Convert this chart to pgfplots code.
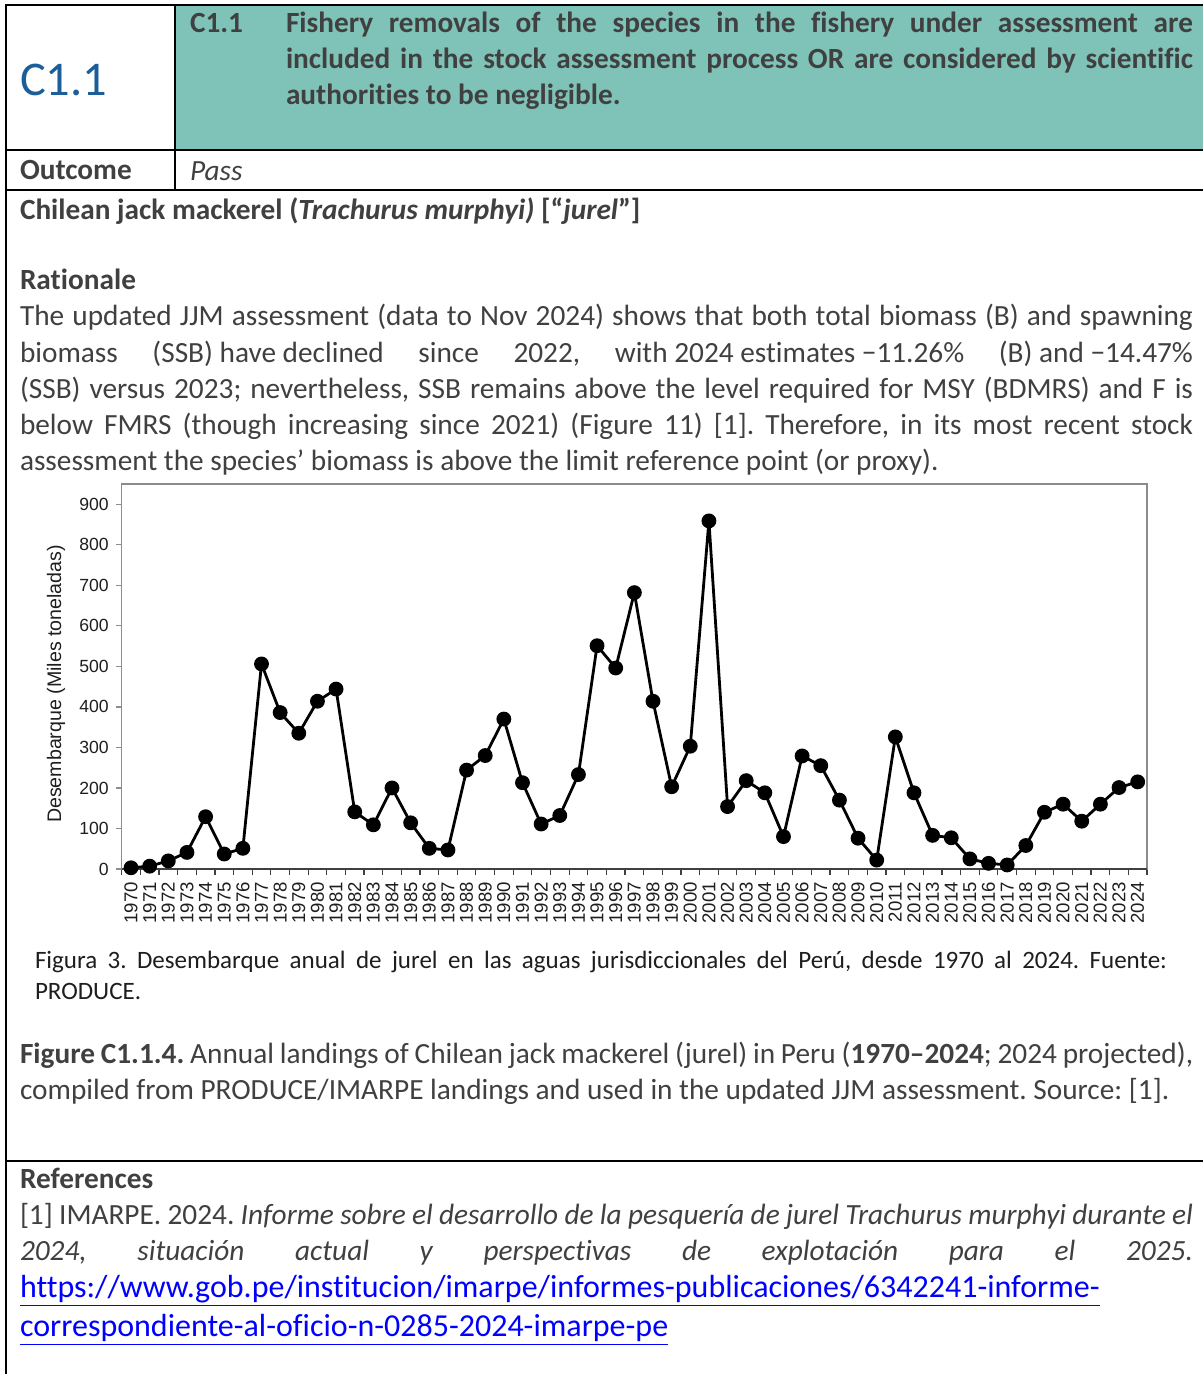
\documentclass[border=0pt]{standalone}
\usepackage{fontspec}
\setmainfont{Carlito}[Ligatures=NoCommon]
\newfontfamily\chartfont{Liberation Sans}
\usepackage{pgfplots}
\pgfplotsset{compat=1.18}
\definecolor{txt}{HTML}{404040}
\definecolor{teal1}{HTML}{7FC3B8}
\definecolor{hdrblue}{HTML}{1C5E9A}
\definecolor{linkblue}{HTML}{0000FF}
\definecolor{framegray}{HTML}{8C8C8C}
\definecolor{capblack}{HTML}{1E1E1E}
\newcommand\jl[2]{\makebox[#1][s]{#2}}
\frenchspacing
\begin{document}
\frenchspacing
\begin{tikzpicture}[x=0.5pt,y=0.5pt]
\useasboundingbox (0,0) rectangle (1203,-1374);
\fill[white] (0,0) rectangle (1203,-1374);
\fill[teal1] (175,-5) rectangle (1203,-150);
\draw[line width=1.2pt] (5,-5) -- (1203,-5);
\draw[line width=1.2pt] (6,-5) -- (6,-1374);
\draw[line width=1.2pt] (175,-5) -- (175,-190);
\draw[line width=1.2pt] (6,-150) -- (1203,-150);
\draw[line width=1.2pt] (6,-190) -- (1203,-190);
\draw[line width=1.2pt] (6,-1161) -- (1203,-1161);
\tikzset{t/.style={anchor=base west, inner sep=0pt, outer sep=0pt, text=txt, font=\fontsize{14.65}{18}\selectfont\frenchspacing}}
% header
\node[t, text=hdrblue, font=\fontsize{24.2}{28}\selectfont] at (20,-96) {C1.1};
\node[t] at (190,-33) {\textbf{C1.1}};
\node[t] at (286,-33) {\bfseries\jl{453.5pt}{Fishery removals of the species in the fishery under assessment are}};
\node[t] at (286,-69) {\bfseries\jl{453.5pt}{included in the stock assessment process OR are considered by scientific}};
\node[t] at (286,-105) {\bfseries authorities to be negligible.};
\node[t] at (20,-180) {\textbf{Outcome}};
\node[t] at (190,-181) {\textit{Pass}};
\node[t] at (20,-220) {\textbf{Chilean jack mackerel (\textit{Trachurus murphyi)} [“\textit{jurel}”]}};
\node[t] at (20,-290) {\textbf{Rationale}};
\node[t] at (20,-326) {\jl{586.5pt}{The updated JJM assessment (data to Nov 2024) shows that both total biomass (B) and spawning}};
\node[t] at (20,-362) {\jl{586.5pt}{biomass \mbox{(SSB) have declined} since 2022, \mbox{with 2024 estimates −11.26\%} \mbox{(B) and −14.47\%}}};
\node[t] at (20,-398) {\jl{586.5pt}{(SSB) versus 2023; nevertheless, SSB remains above the level required for MSY (BDMRS) and F is}};
\node[t] at (20,-434) {\jl{586.5pt}{below FMRS (though increasing since 2021) (Figure 11) [1]. Therefore, in its most recent stock}};
\node[t] at (20,-470) {assessment the species’ biomass is above the limit reference point (or proxy).};
% chart
\node[rotate=90, inner sep=0pt, text=capblack, font=\chartfont\fontsize{9.8}{11}\selectfont] at (56,-684) {Desembarque (Miles toneladas)};
\begin{axis}[
  at={(60.85pt,-434.5pt)}, anchor=south west,
  width=512.65pt, height=192.5pt, scale only axis,
  xmin=1969.5, xmax=2024.5, ymin=0, ymax=950,
  axis line style={framegray, line width=0.7pt},
  xtick={1970,...,2024},
  minor xtick={1969.5,1970.5,...,2024.5},
  ytick={0,100,...,900},
  xtick pos=bottom, ytick pos=left,
  tick align=outside,
  major tick length=3pt, minor tick length=3pt,
  major x tick style={draw=none},
  minor x tick style={black!75, line width=0.6pt},
  major y tick style={framegray, line width=0.6pt},
  /pgf/number format/assume math mode=true,
  xticklabel={\pgfmathprintnumber[fixed, precision=0, 1000 sep={}]{\tick}},
  xticklabel style={rotate=90, anchor=east, text=capblack, font=\chartfont\fontsize{9.3}{10}\selectfont},
  yticklabel style={text=capblack, font=\chartfont\fontsize{8.8}{10}\selectfont},
  clip=false,
]
\draw[black!75, line width=0.7pt] (rel axis cs:0,0) -- (rel axis cs:1,0);
\addplot[black, line width=1.4pt, mark=*, mark size=3pt, mark options={fill=black}] coordinates {
(1970,3) (1971,7) (1972,20) (1973,41) (1974,129) (1975,37) (1976,51) (1977,506) (1978,386) (1979,335)
(1980,414) (1981,444) (1982,141) (1983,109) (1984,200) (1985,114) (1986,51) (1987,47) (1988,244) (1989,280)
(1990,370) (1991,213) (1992,111) (1993,132) (1994,233) (1995,551) (1996,496) (1997,682) (1998,414) (1999,203)
(2000,303) (2001,859) (2002,154) (2003,218) (2004,188) (2005,80) (2006,279) (2007,255) (2008,170) (2009,76)
(2010,22) (2011,326) (2012,188) (2013,83) (2014,77) (2015,25) (2016,14) (2017,10) (2018,58) (2019,140)
(2020,160) (2021,118) (2022,160) (2023,201) (2024,215)};
\end{axis}
% captions
\tikzset{c/.style={anchor=base west, inner sep=0pt, outer sep=0pt, text=capblack, font=\fontsize{12.5}{15}\selectfont\frenchspacing}}
\node[c] at (35,-968) {\jl{566pt}{Figura 3. Desembarque anual de jurel en las aguas jurisdiccionales del Perú, desde 1970 al 2024. Fuente:}};
\node[c] at (35,-999) {PRODUCE.};
\node[t] at (20,-1063) {\jl{586.5pt}{\textbf{Figure C1.1.4.} Annual landings of Chilean jack mackerel (jurel) in Peru (\textbf{1970–2024}; 2024 projected),}};
\node[t] at (20,-1099) {compiled from PRODUCE/IMARPE landings and used in the updated JJM assessment. Source: [1].};
% references
\node[t] at (20,-1188) {\textbf{References}};
\node[t] at (20,-1224) {\jl{586.5pt}{[1] IMARPE. 2024. \textit{Informe sobre el desarrollo de la pesquería de jurel Trachurus murphyi durante el}}};
\node[t] at (20,-1260) {\itshape\jl{586.5pt}{2024, situación actual y perspectivas de explotación para el 2025.}};
\node[t, text=linkblue, font=\fontsize{16}{18}\selectfont] at (20,-1297) {\underline{https://www.gob.pe/institucion/imarpe/informes-publicaciones/6342241-informe-}};
\node[t, text=linkblue, font=\fontsize{16}{18}\selectfont] at (20,-1336) {\underline{correspondiente-al-oficio-n-0285-2024-imarpe-pe}};
\end{tikzpicture}
\end{document}
